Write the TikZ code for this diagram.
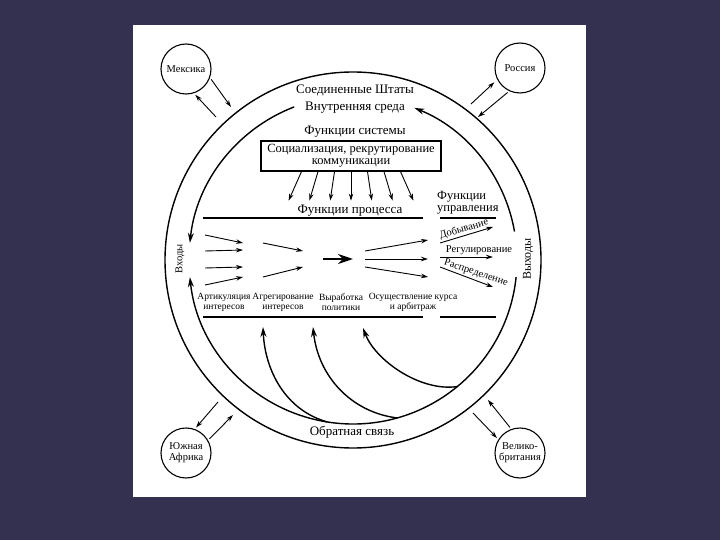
\documentclass[tikz,border=0pt]{standalone}
\usepackage{fontspec}
\setmainfont{Liberation Serif}
\usetikzlibrary{arrows.meta}
\usetikzlibrary{calc}
\usetikzlibrary{positioning}
\definecolor{slatebg}{RGB}{52,49,80}
\tikzset{country/.style = {draw, circle, line width = 1.1, minimum size = 50, inner sep = 0, align = center, font = \fontsize{10.5}{11}\selectfont}}
\tikzset{ring/.style = {line width = 1.4}}
\tikzset{flow/.style = {-{Stealth[length = 10, width = 6]}}}
\tikzset{link/.style = {-{Stealth[length = 7, width = 4.5]}, line width = 0.9}}
\tikzset{bigtext/.style = {inner sep = 0, font = \fontsize{13}{13}\selectfont}}
\tikzset{midtext/.style = {inner sep = 0, font = \fontsize{10.5}{11}\selectfont}}
\tikzset{smalltext/.style = {inner sep = 0, align = center, font = \fontsize{9.5}{10}\selectfont}}
\tikzset{rule/.style = {line width = 1.8}}

\begin{document}
\begin{tikzpicture}[x = 1pt, y = -1pt]
  \useasboundingbox (0, 0) rectangle (720, 540);
  \fill [slatebg] (0, 0) rectangle (720, 540);
  \fill [white] (133, 25) rectangle (586, 497);

  % ring
  \coordinate (C) at (353, 260);
  \draw [ring] (C) circle [radius = 188];
  \draw [ring, flow] ($(C) + (249:164)$) arc [start angle = 249, end angle = 186, radius = 164];
  \draw [ring, flow] ($(C) + (350:164)$) arc [start angle = 350, end angle = 292, radius = 164];
  \draw [ring, flow] ($(C) + (6:164)$) arc [start angle = 6, end angle = 174, radius = 164];

  \node [bigtext] (usa) at (355, 90) {Соединенные Штаты};
  \node [bigtext] (env) at (355, 108) {Внутренняя среда};
  \node [bigtext] (feedback) at (352, 432) {Обратная связь};
  \node [midtext, rotate = 90] (inputs) at (180, 259) {Входы};
  \node [bigtext, font = \fontsize{12}{12}\selectfont, rotate = 90] (outputs) at (528, 259) {Выходы};

  % system functions
  \node [bigtext] (sysfun) at (355, 132) {Функции системы};
  \node [draw, line width = 1.2, minimum width = 180, minimum height = 30, inner sep = 2, align = center,
         font = \fontsize{12.5}{12}\selectfont] (social) at (351, 156) {Социализация, рекрутирование\\коммуникации};
  \foreach \k in {-3, ..., 3}
    \draw [link] ([xshift = \k * 16.5pt] social.south) -- ++(\k * 4.3, 29);

  % process functions
  \node [bigtext] (procfun) at (350, 211) {Функции процесса};
  \node [bigtext, font = \fontsize{12.5}{12}\selectfont, anchor = west, align = left] (govfun) at (437, 203) {Функции\\управления};
  \draw [rule] (203, 218) -- (423, 218);
  \draw [rule] (440, 218) -- (496, 218);

  \draw [link] (205, 235) -- (243, 243);
  \draw [link] (205, 251) -- (243, 250);
  \draw [link] (205, 268) -- (243, 267);
  \draw [link] (205, 285) -- (243, 277);

  \draw [link] (263, 243) -- (303, 251);
  \draw [link] (263, 277) -- (303, 267);

  \draw [line width = 2.4, -{Stealth[length = 15, width = 10]}] (323, 259) -- (353, 259);

  \draw [link] (365, 251) -- (428, 240);
  \draw [link] (365, 259) -- (428, 259);
  \draw [link] (365, 267) -- (428, 277);

  % government functions
  \draw [link] (440, 243) -- (493, 227);
  \node [midtext, rotate = 16] (extract) at (464, 229) {Добывание};
  \draw [link] (440, 257) -- (493, 257);
  \node [midtext] (regul) at (479, 250) {Регулирование};
  \draw [link] (440, 267) -- (493, 287);
  \node [midtext, rotate = -18] (distr) at (476, 273) {Распределение};

  \node [smalltext] (artic) at (224, 302) {Артикуляция\\интересов};
  \node [smalltext] (aggreg) at (283, 302) {Агрегирование\\интересов};
  \node [smalltext] (policy) at (341, 302) {Выработка\\политики};
  \node [smalltext] (arbit) at (413, 302) {Осуществление курса\\и арбитраж};
  \draw [rule] (203, 317) -- (423, 317);
  \draw [rule] (440, 317) -- (496, 317);

  % feedback
  \coordinate (fbA) at (263, 327);
  \coordinate (fbB) at (313, 327);
  \coordinate (fbC) at (363, 328);
  \draw [ring, flow] ($(C) + (99:164)$) .. controls (285, 410) and (265, 370) .. (fbA);
  \draw [ring, flow] ($(C) + (74.4:164)$) .. controls (350, 412) and (318, 375) .. (fbB);
  \draw [ring, flow] ($(C) + (50.5:164)$) .. controls (420, 392) and (375, 360) .. (fbC);

  % environment
  \node [country] (mex) at (186, 69) {Мексика};
  \node [country] (rus) at (520, 68) {Россия};
  \node [country] (saf) at (186, 453) {Южная\\Африка};
  \node [country] (gbr) at (520, 453) {Велико-\\британия};

  \coordinate (mexA) at (231, 107);
  \coordinate (mexB) at (216, 117);
  \coordinate (rusA) at (471, 104);
  \coordinate (rusB) at (478, 117);
  \coordinate (safA) at (218, 402);
  \coordinate (safB) at (233, 415);
  \coordinate (gbrA) at (473, 413);
  \coordinate (gbrB) at (488, 400);

  \draw [link, shorten <= 2] (mex.-20) -- (mexA);
  \draw [link, shorten >= 2] (mexB) -- (mex.-72);
  \draw [link, shorten >= 4] (rusA) -- (rus.-153);
  \draw [link, shorten <= 2] (rus.-115) -- (rusB);
  \draw [link, shorten >= 2] (safA) -- (saf.70);
  \draw [link, shorten <= 2] (saf.30) -- (safB);
  \draw [link, shorten >= 2] (gbrA) -- (gbr.148);
  \draw [link, shorten <= 2] (gbr.110) -- (gbrB);
\end{tikzpicture}
\end{document}
